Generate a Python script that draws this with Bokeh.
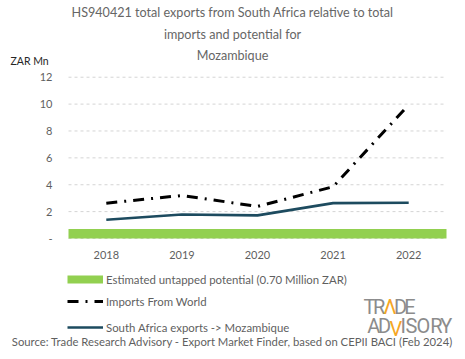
from bokeh.plotting import figure
from bokeh.models import Range1d, FixedTicker, Label, Legend, LegendItem, LinearAxis
from bokeh.embed import file_html
from bokeh.resources import INLINE

# ---- data ----
years = [2018, 2019, 2020, 2021, 2022]
imports_world = [2.63, 3.20, 2.39, 3.85, 9.95]
sa_exports = [1.39, 1.79, 1.72, 2.63, 2.66]
untapped_potential = 0.70
y_ticks = [0, 2, 4, 6, 8, 10, 12]
y_tick_labels = {0: "-"}

title_lines = [
    "HS940421 total exports from South Africa relative to total",
    "imports and potential for",
    "Mozambique",
]
legend_labels = [
    "Estimated untapped potential (0.70 Million ZAR)",
    "Imports From World",
    "South Africa exports -> Mozambique",
]
source_text = "Source: Trade Research Advisory - Export Market Finder, based on CEPII BACI (Feb 2024)"

FONT = "Lato"
GRAY = "#5f5f5f"
GREEN = "#92D050"
TEAL = "#1d4b5f"

# ---- layout (pixels) ----
W, H = 465, 359
PLOT_L, PLOT_R = 68, 446      # data area, px from left
PLOT_B = 238                  # y = 0 position, px from top
PX_PER_Y = 13.44

x0, x1 = years[0] - 0.5, years[-1] + 0.5
px_per_x = (PLOT_R - PLOT_L) / (x1 - x0)
xr = Range1d(x0 - PLOT_L / px_per_x, x1 + (W - PLOT_R) / px_per_x)
yr = Range1d(-(H - PLOT_B) / PX_PER_Y, PLOT_B / PX_PER_Y)

p = figure(width=W, height=H, output_backend="svg", toolbar_location=None,
           x_range=xr, y_range=yr, x_axis_type=None, y_axis_type=None,
           min_border=0)
p.outline_line_color = None
p.background_fill_color = "white"
p.border_fill_color = "white"
p.grid.visible = False

# grid lines (dashed) across the data area
p.segment(x0=[x0] * len(y_ticks), x1=[x1] * len(y_ticks), y0=y_ticks, y1=y_ticks,
          line_color="#d4d4d4", line_width=1, line_dash="3 3")

# axes placed at the edge of the data area
yax = LinearAxis(fixed_location=x0, ticker=FixedTicker(ticks=y_ticks),
                 major_label_overrides=y_tick_labels)
xax = LinearAxis(fixed_location=0, ticker=FixedTicker(ticks=years))
for ax in (xax, yax):
    ax.axis_line_color = None
    ax.major_tick_line_color = None
    ax.minor_tick_line_color = None
    ax.major_tick_out = 0
    ax.major_tick_in = 0
    ax.major_label_text_font = FONT
    ax.major_label_text_font_size = "11px"
    ax.major_label_text_color = GRAY
yax.major_label_standoff = 16
xax.major_label_standoff = 12
p.add_layout(yax, "left")
p.add_layout(xax, "below")

# untapped potential band
p.quad(left=[x0], right=[x1], bottom=[0], top=[untapped_potential],
       fill_color=GREEN, line_color=None)
# legend swatch for the band (thick line glyph, not visible in the chart)
band_sw = p.line(x=[float("nan")], y=[float("nan")], line_color=GREEN, line_width=8)

imp = p.line(years, imports_world, line_color="black", line_width=3,
             line_dash="11 7 2 7")
exp = p.line(years, sa_exports, line_color=TEAL, line_width=2.6)


def sx(px):
    return px


def sy(py):
    return H - py


# legends (one per row)
rows = [(band_sw, 279), (imp, 301), (exp, 327)]
for (r, cy), lab in zip(rows, legend_labels):
    lg = Legend(items=[LegendItem(label=lab, renderers=[r])],
                location=(sx(67), sy(cy + 8)),
                padding=0, margin=0, spacing=0,
                glyph_width=36, glyph_height=16, label_height=16,
                label_standoff=3,
                border_line_color=None, background_fill_alpha=0,
                label_text_font=FONT, label_text_font_size="11.4px",
                label_text_color=GRAY)
    p.add_layout(lg, "center")

# title
for line, cy in zip(title_lines, [12, 34, 55]):
    p.add_layout(Label(x=sx(232), y=sy(cy), x_units="screen", y_units="screen",
                       text=line, text_align="center", text_baseline="middle",
                       text_font=FONT, text_font_size="12.6px",
                       text_color="#666666"))

p.add_layout(Label(x=sx(10), y=sy(60), x_units="screen", y_units="screen",
                   text="ZAR Mn", text_align="left", text_baseline="middle",
                   text_font=FONT, text_font_size="10.5px", text_color="#262626"))

p.add_layout(Label(x=sx(232), y=sy(341), x_units="screen", y_units="screen",
                   text=source_text, text_align="center", text_baseline="middle",
                   text_font=FONT, text_font_size="11.3px", text_color=GRAY))

# logo
LOGO_GRAY = "#8c8c8c"
ORANGE = "#f5a623"
logo = [
    ("T", 369, 306, LOGO_GRAY), ("R", 378.7, 306, LOGO_GRAY),
    ("\u039B", 389.5, 306, ORANGE), ("D", 400, 306, LOGO_GRAY),
    ("E", 409.5, 306, LOGO_GRAY),
    ("A", 373.3, 325, LOGO_GRAY), ("D", 384, 325, LOGO_GRAY),
    ("V", 395.3, 328, ORANGE), ("I", 402.8, 325, LOGO_GRAY),
    ("S", 411, 325, LOGO_GRAY), ("O", 422.8, 325, LOGO_GRAY),
    ("R", 435.8, 325, LOGO_GRAY), ("Y", 445.8, 325, LOGO_GRAY),
]
for ch, cx, by, col in logo:
    p.add_layout(Label(x=sx(cx), y=sy(by), x_units="screen", y_units="screen",
                       text=ch, text_align="center", text_baseline="alphabetic",
                       text_font="Roboto", text_font_size="20px",
                       text_color=col))

open("out.html", "w").write(file_html(p, INLINE))
